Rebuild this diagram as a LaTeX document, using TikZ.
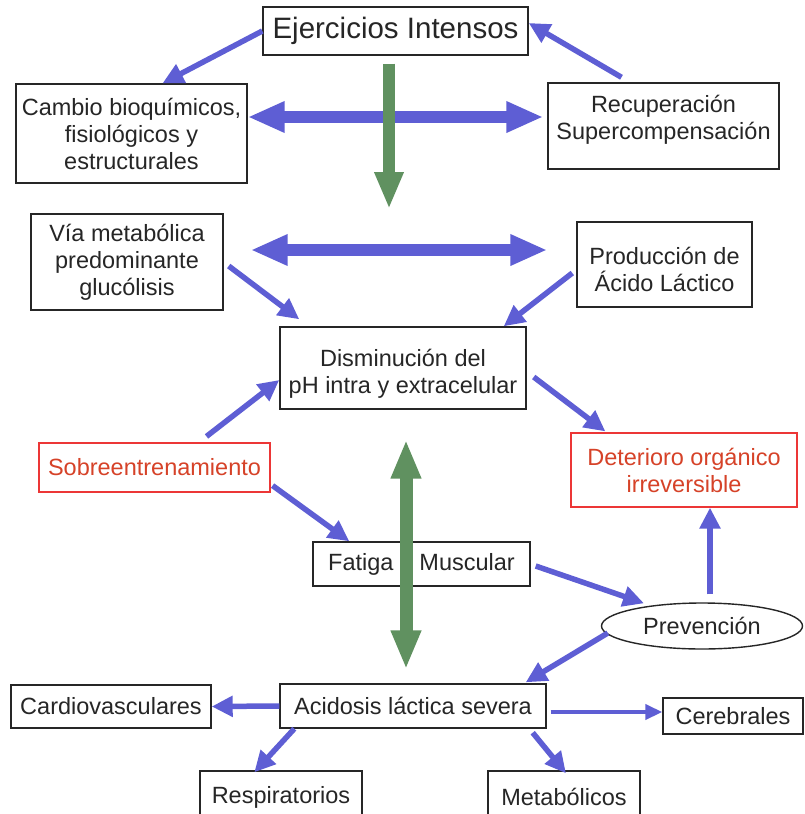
\documentclass[tikz,border=0pt]{standalone}
\usepackage{fontspec}
\setmainfont{Liberation Sans}
\usetikzlibrary{arrows.meta,shapes.geometric}
\definecolor{azul}{RGB}{94,94,212}
\definecolor{verde}{RGB}{96,145,96}
\definecolor{rojo}{RGB}{236,54,54}
\definecolor{rojotexto}{RGB}{214,66,40}
\tikzset{
	caja/.style={draw=black!85, line width=1.4pt, fill=white, inner sep=0pt, align=center,
		font=\fontsize{23.5}{27}\selectfont, text=black!85},
	cajaroja/.style={caja, draw=rojo, line width=1.2pt, text=rojotexto},
	flecha/.style={draw=azul, line width=5.5pt, -{Triangle[length=21pt,width=20pt]}},
	flechafina/.style={draw=azul, line width=4pt, -{Triangle[length=17pt,width=15pt]}},
	dobleazul/.style={draw=azul, line width=12pt, {Triangle[length=37pt,width=29pt]}-{Triangle[length=37pt,width=29pt]}},
	verdebaja/.style={draw=verde, line width=12pt, -{Triangle[length=37pt,width=27pt]}},
	verdedoble/.style={draw=verde, line width=13pt, {Triangle[length=39pt,width=28pt]}-{Triangle[length=39pt,width=28pt]}}
}
\begin{document}
\begin{tikzpicture}[x=1pt,y=-1pt] %pixel units, y downwards
			\useasboundingbox (0,0) rectangle (804,814);
			\node[caja, minimum width=265pt, minimum height=48pt, font=\fontsize{29.5}{34}\selectfont] (ejer) at (395.5,31) {Ejercicios Intensos};
			\node[caja, minimum width=231pt, minimum height=99pt] (cambio) at (131.5,133.5) {Cambio bioquímicos,\\fisiológicos y\\estructurales};
			\node[caja, minimum width=231pt, minimum height=86pt, text depth=17pt] (rec) at (663.5,126) {Recuperación\\Supercompensación};
			\node[caja, minimum width=192pt, minimum height=96pt] (via) at (127,262) {Vía metabólica\\predominante\\glucólisis};
			\node[caja, minimum width=175pt, minimum height=85pt, text height=54.5pt] (prod) at (664.5,264.5) {Producción de\\Ácido Láctico};
			\node[caja, minimum width=246pt, minimum height=82pt, text height=56.5pt] (dism) at (403,368) {Disminución del\\pH intra y extracelular};
			\node[cajaroja, minimum width=231pt, minimum height=49pt] (sobre) at (154.5,467.5) {Sobreentrenamiento};
			\node[cajaroja, minimum width=226pt, minimum height=74pt] (det) at (684,470) {Deterioro orgánico\\irreversible};
			\node[caja, minimum width=217pt, minimum height=44pt] (fatiga) at (421.5,564) {Fatiga\hspace{26pt}Muscular};
			\node[caja, ellipse, minimum width=201pt, minimum height=46pt] (prev) at (702,626) {Prevención};
			\node[caja, minimum width=266pt, minimum height=44pt] (acid) at (413,706) {Acidosis láctica severa};
			\node[caja, minimum width=200pt, minimum height=43pt] (cardio) at (111,706.5) {Cardiovasculares};
			\node[caja, minimum width=162pt, minimum height=52pt] (resp) at (281,797) {Respiratorios};
			\node[caja, minimum width=152pt, minimum height=52pt] (metab) at (564,797) {Metabólicos};
			\node[caja, minimum width=140pt, minimum height=36pt] (cereb) at (733,716) {Cerebrales};
			\coordinate (verde1) at (389,209);
			\draw[flecha] (ejer.west) -- ([xshift=31pt]cambio.north);
			\draw[flecha] ([xshift=-42pt,yshift=5pt]rec.north) -- ([yshift=8pt]ejer.east);
			\draw[dobleazul] ([yshift=16.5pt]cambio.east) -- ([xshift=-4pt,yshift=9pt]rec.west);
			\draw[dobleazul] ([xshift=27pt,yshift=12pt]via.east) -- ([xshift=-29pt,yshift=14.5pt]prod.west);
			\draw[flecha] ([xshift=5pt,yshift=-4pt]via.east) -- ([xshift=20pt,yshift=7pt]dism.north west);
			\draw[flecha] ([xshift=-4pt,yshift=-8.5pt]prod.west) -- ([xshift=-23pt]dism.north east);
			\draw[flecha] ([xshift=52pt,yshift=6pt]sobre.north) -- ([yshift=-12pt]dism.west);
			\draw[flecha] ([xshift=7pt,yshift=-9pt]dism.east) -- ([xshift=35pt,yshift=1pt]det.north west);
			\draw[flecha] ([xshift=2pt,yshift=7pt]sobre.south east) -- ([xshift=37pt]fatiga.north west);
			\draw[flecha] ([xshift=5pt,yshift=-2pt]fatiga.east) -- ([xshift=-58pt,yshift=-1pt]prev.north);
			\draw[flecha] ([xshift=8pt,yshift=8pt]prev.north) -- ([xshift=26pt]det.south);
			\draw[flecha] ([xshift=7pt,yshift=-7pt]prev.west) -- ([xshift=-21pt,yshift=1pt]acid.north east);
			\draw[flecha] (acid.west) -- (cardio.east);
			\draw[flecha] ([xshift=15pt]acid.south west) -- ([xshift=55pt,yshift=-2pt]resp.north west);
			\draw[flechafina] ([xshift=4pt,yshift=-6pt]acid.east) -- ([yshift=4pt]cereb.west);
			\draw[flecha] ([xshift=-14pt,yshift=-4pt]acid.south east) -- ([xshift=2pt,yshift=-3pt]metab.north);
			\draw[verdebaja] ([xshift=-6.5pt,yshift=-8pt]ejer.south) -- (verde1);
			\draw[verdedoble] ([xshift=3pt,yshift=-30pt]dism.south) -- ([xshift=-7pt,yshift=14pt]acid.north);
\end{tikzpicture}
\end{document}
